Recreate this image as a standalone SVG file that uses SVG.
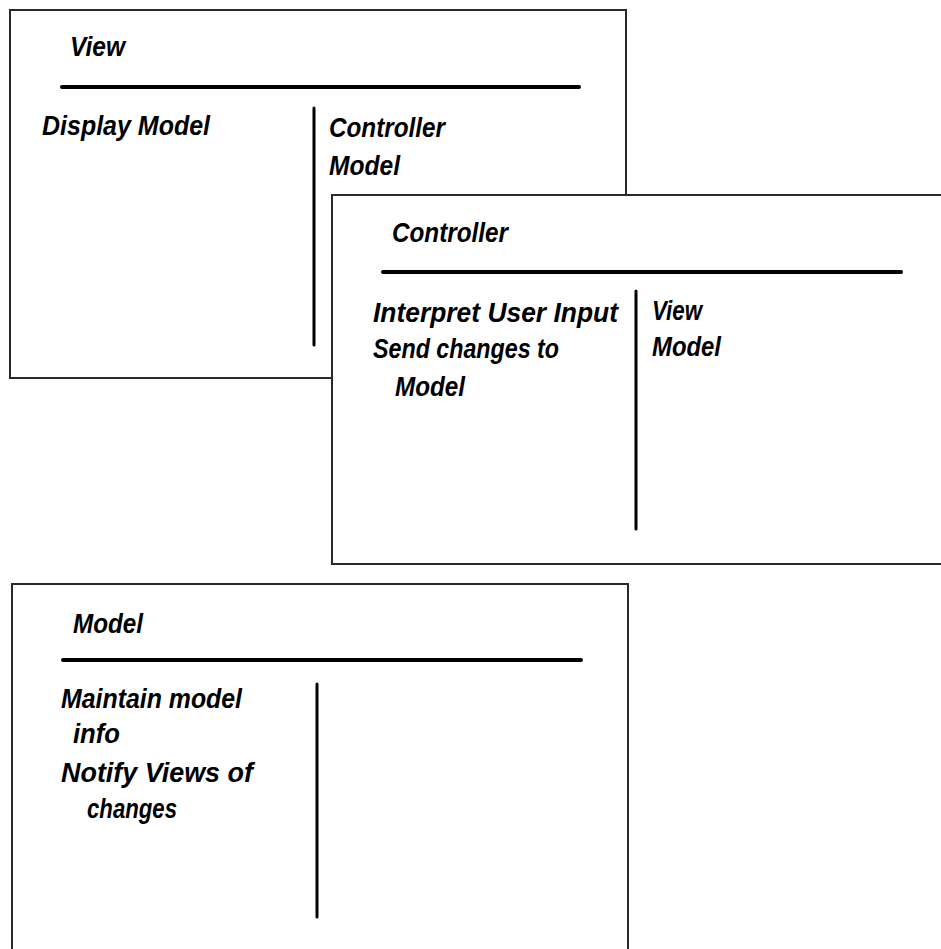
<svg xmlns="http://www.w3.org/2000/svg" width="941" height="949" viewBox="0 0 941 949">
  <style>
    .card { fill: #ffffff; stroke: #2a2a2a; stroke-width: 2; }
    .rule { stroke: #000000; stroke-width: 4; stroke-linecap: round; }
    .divider { stroke: #000000; stroke-width: 3; stroke-linecap: round; }
    .hand { font-family: "Liberation Sans Narrow", "Liberation Sans", sans-serif; font-style: italic; font-weight: bold; font-size: 27px; fill: #000000; }
  </style>
  <rect x="0" y="0" width="941" height="949" fill="#ffffff"/>

  <!-- CRC card: View -->
  <g id="card-view">
    <rect class="card" x="10" y="10" width="616" height="368"/>
    <text class="hand" x="70" y="56" textLength="55" lengthAdjust="spacingAndGlyphs">View</text>
    <line class="rule" x1="62" y1="87" x2="579" y2="87"/>
    <line class="divider" x1="314" y1="108" x2="314" y2="345"/>
    <text class="hand" x="42" y="135" textLength="168" lengthAdjust="spacingAndGlyphs">Display Model</text>
    <text class="hand" x="329" y="137" textLength="116" lengthAdjust="spacingAndGlyphs">Controller</text>
    <text class="hand" x="329" y="175" textLength="71" lengthAdjust="spacingAndGlyphs">Model</text>
  </g>

  <!-- CRC card: Controller (overlaps the View card) -->
  <g id="card-controller">
    <rect class="card" x="332" y="195" width="630" height="369"/>
    <text class="hand" x="392" y="242" textLength="116" lengthAdjust="spacingAndGlyphs">Controller</text>
    <line class="rule" x1="383" y1="272" x2="901" y2="272"/>
    <line class="divider" x1="636" y1="291" x2="636" y2="529"/>
    <text class="hand" x="373" y="322" textLength="245" lengthAdjust="spacingAndGlyphs">Interpret User Input</text>
    <text class="hand" x="373" y="358" textLength="186" lengthAdjust="spacingAndGlyphs">Send changes to</text>
    <text class="hand" x="395" y="396" textLength="70" lengthAdjust="spacingAndGlyphs">Model</text>
    <text class="hand" x="652" y="320" textLength="50" lengthAdjust="spacingAndGlyphs">View</text>
    <text class="hand" x="652" y="356" textLength="69" lengthAdjust="spacingAndGlyphs">Model</text>
  </g>

  <!-- CRC card: Model -->
  <g id="card-model">
    <rect class="card" x="12" y="584" width="616" height="390"/>
    <text class="hand" x="73" y="633" textLength="70" lengthAdjust="spacingAndGlyphs">Model</text>
    <line class="rule" x1="63" y1="660" x2="581" y2="660"/>
    <line class="divider" x1="317" y1="684" x2="317" y2="917"/>
    <text class="hand" x="61" y="708" textLength="181" lengthAdjust="spacingAndGlyphs">Maintain model</text>
    <text class="hand" x="73" y="743" textLength="47" lengthAdjust="spacingAndGlyphs">info</text>
    <text class="hand" x="61" y="782" textLength="192" lengthAdjust="spacingAndGlyphs">Notify Views of</text>
    <text class="hand" x="87" y="818" textLength="90" lengthAdjust="spacingAndGlyphs">changes</text>
  </g>
</svg>
